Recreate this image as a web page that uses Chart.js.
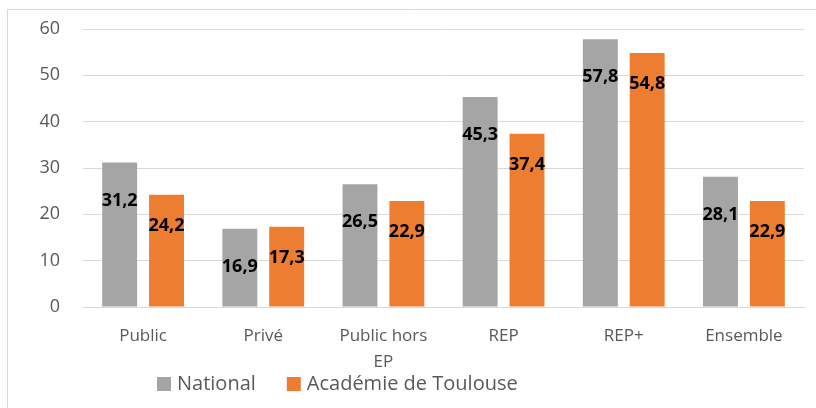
<!DOCTYPE html>
<html>
<head>
<meta charset="utf-8">
<script src="https://cdn.jsdelivr.net/npm/chart.js@4/dist/chart.umd.min.js"></script>
<style>
  html, body { margin: 0; padding: 0; background: #fff; }
  #wrap { width: 816px; height: 408px; }
</style>
</head>
<body>
<div id="wrap"><canvas id="myChart" width="816" height="408"></canvas></div>
<script>
  const categories = ['Public', 'Privé', ['Public hors', 'EP'], 'REP', 'REP+', 'Ensemble'];
  const national = [31.2, 16.9, 26.5, 45.3, 57.8, 28.1];
  const toulouse = [24.2, 17.3, 22.9, 37.4, 54.8, 22.9];
  const yTicks = [0, 10, 20, 30, 40, 50, 60];

  Chart.defaults.font.family = "'Open Sans', sans-serif";
  Chart.defaults.color = '#595959';

  // cadre gris (haut + gauche) autour du graphique
  const frame = {
    id: 'frame',
    beforeDraw(chart) {
      const c = chart.ctx;
      c.save();
      c.strokeStyle = '#d9d9d9';
      c.lineWidth = 1;
      c.beginPath();
      c.moveTo(7.5, chart.height);
      c.lineTo(7.5, 9.5);
      c.lineTo(chart.width, 9.5);
      c.stroke();
      c.restore();
    }
  };

  // étiquettes de valeurs dans les barres
  const valueLabels = {
    id: 'valueLabels',
    afterDatasetsDraw(chart) {
      const c = chart.ctx;
      c.save();
      c.font = "bold 18px 'Open Sans', sans-serif";
      c.fillStyle = '#000';
      c.textAlign = 'center';
      c.textBaseline = 'middle';
      chart.data.datasets.forEach((ds, i) => {
        chart.getDatasetMeta(i).data.forEach((bar, j) => {
          const txt = ds.data[j].toFixed(1).replace('.', ',');
          c.fillText(txt, bar.x, bar.y + ds.labelOffset);
        });
      });
      c.restore();
    }
  };

  // légende en bas (dessinée à la main pour coller à l'espacement Excel)
  const bottomLegend = {
    id: 'bottomLegend',
    afterDraw(chart) {
      const c = chart.ctx;
      const y = 384;
      let x = chart.chartArea.left + 74;
      c.save();
      c.font = "20px 'Open Sans', sans-serif";
      c.textBaseline = 'middle';
      c.textAlign = 'left';
      chart.data.datasets.forEach(ds => {
        c.fillStyle = ds.backgroundColor;
        c.fillRect(x, y - 7, 14, 14);
        x += 20;
        c.fillStyle = '#595959';
        c.fillText(ds.label, x, y);
        x += c.measureText(ds.label).width + 31;
      });
      c.restore();
    }
  };

  new Chart(document.getElementById('myChart'), {
    type: 'bar',
    data: {
      labels: categories,
      datasets: [
        {
          label: 'National',
          data: national,
          backgroundColor: '#a5a5a5',
          labelOffset: 38,
          categoryPercentage: 0.78,
          barPercentage: 0.745
        },
        {
          label: 'Académie de Toulouse',
          data: toulouse,
          backgroundColor: '#ed7d31',
          labelOffset: 31,
          categoryPercentage: 0.78,
          barPercentage: 0.745
        }
      ]
    },
    options: {
      responsive: false,
      animation: false,
      layout: { padding: { left: 0, right: 12, top: 29, bottom: 35 } },
      plugins: {
        tooltip: { enabled: false },
        legend: { display: false }
      },
      scales: {
        x: {
          grid: { display: false },
          border: { color: '#d9d9d9', width: 1 },
          ticks: {
            color: '#595959',
            font: { size: 17, lineHeight: 1.55 },
            padding: 8,
            maxRotation: 0,
            autoSkip: false
          },
          afterFit(scale) { scale.height = 66; }
        },
        y: {
          min: 0,
          max: 60,
          afterBuildTicks(scale) { scale.ticks = yTicks.map(v => ({ value: v })); },
          grid: { color: '#d9d9d9', lineWidth: 1, drawTicks: false },
          border: { display: false },
          ticks: {
            color: '#595959',
            font: { size: 18 },
            padding: 23
          },
          afterFit(scale) {
            scale.width = 83;
            scale.paddingTop = 0;
            scale.paddingBottom = 0;
          }
        }
      }
    },
    plugins: [frame, valueLabels, bottomLegend]
  });
</script>
</body>
</html>
